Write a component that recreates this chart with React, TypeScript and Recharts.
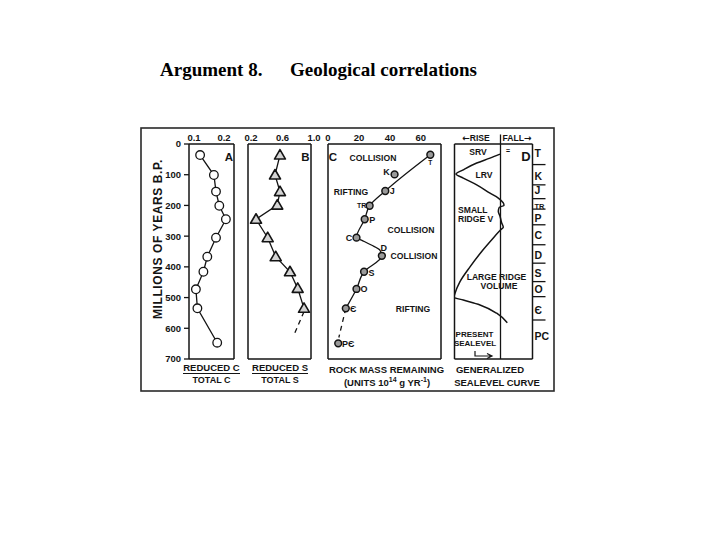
import React from 'react';
import { ScatterChart, Scatter, XAxis, YAxis, ReferenceLine } from 'recharts';

const W = 720;
const H = 540;
const FONT = '"Liberation Sans", Arial, Helvetica, sans-serif';
const INK = '#141414';

// shared vertical axis: millions of years before present
const ageTicks = [0, 100, 200, 300, 400, 500, 600, 700];
const innerTicks = [100, 200, 300, 400, 500, 600];

// A: reduced C / total C
const aAges = [36, 101, 155, 201, 245, 305, 367, 416, 473, 535, 647];
const aRatio = [0.137, 0.183, 0.19, 0.201, 0.223, 0.19, 0.161, 0.148, 0.123, 0.128, 0.194];
const aTicks = [0.1, 0.2];
const aMinorTicks = [0.15, 0.2];

// B: reduced S / total S
const bAges = [36, 101, 155, 199, 245, 305, 367, 416, 470, 535];
const bRatio = [0.606, 0.543, 0.606, 0.572, 0.302, 0.45, 0.552, 0.733, 0.831, 0.911];
const bDashAges = [546, 627];
const bDashRatio = [0.911, 0.775];
const bTicks = [0.2, 0.6, 1.0];
const bMinorTicks = [0.4, 0.6, 0.8];

// C: rock mass remaining (10^14 g/yr)
const cNames = ['T', 'K', 'J', 'TR', 'P', 'C', 'D', 'S', 'O', 'Є', 'PЄ'];
const cAges = [35, 99, 153, 201, 245, 305, 364, 416, 472, 535, 649];
const cMass = [66.1, 43.0, 37.0, 26.9, 23.7, 18.4, 34.8, 23.3, 18.4, 11.5, 6.6];
const cTrendAges = [35, 153, 201, 245, 305, 313, 329, 345, 364, 416, 472, 535];
const cTrendMass = [66.1, 37.0, 26.9, 23.7, 18.4, 21.6, 28.0, 33.4, 34.8, 23.3, 18.4, 11.5];
const cDashAges = [535, 630];
const cDashMass = [11.5, 7.0];
const cTicks = [0, 20, 40, 60];

// D: generalized sealevel curve (rise is positive, to the left)
const dAges = [33, 46, 62, 84, 98, 111, 133, 160, 176, 192, 200, 206, 219, 235, 257, 271, 279, 306, 350, 400, 448, 486, 499, 508, 524, 551, 582];
const dRise = [0.5, 10.5, 23.8, 37.2, 44.5, 37.2, 23.8, 10.5, 2.2, -2.8, -3.5, 1.2, 2.2, 0.5, -1.2, -2.8, -0.2, 7.2, 18.8, 30.5, 40.5, 45.5, 46.5, 37.2, 20.5, 3.8, -6.8];
const periods = ['T', 'K', 'J', 'TR', 'P', 'C', 'D', 'S', 'O', 'Є', 'PC'];
const periodAges = [29, 104, 152, 199, 243, 296, 362, 420, 475, 541, 628];
const boundaryAges = [67, 133, 178, 212, 263, 328, 388, 448, 497, 573];

const pairs = (ages: number[], vals: number[]) => ages.map((age, i) => ({ age, v: vals[i] }));

const aData = pairs(aAges, aRatio);
const bData = pairs(bAges, bRatio);
const bDash = pairs(bDashAges, bDashRatio);
const cData = cAges.map((age, i) => ({ age, v: cMass[i], name: cNames[i] }));
const cTrend = pairs(cTrendAges, cTrendMass);
const cDash = pairs(cDashAges, cDashMass);
const dData = pairs(dAges, dRise);

const axisLine = { stroke: INK, strokeWidth: 1.5 };
const tickLine = { stroke: INK, strokeWidth: 1.3 };
const txt = { fontFamily: FONT, fontWeight: 700, fill: INK } as const;
const layer: React.CSSProperties = { position: 'absolute', left: 0, top: 0 };

const topTick = (shift: number, digits: number) => (p: any) => (
  <text x={p.x + shift} y={p.y} textAnchor="middle" fontSize={9.5} {...txt}>
    {Number(p.payload.value).toFixed(digits)}
  </text>
);

const ageTick = (p: any) => (
  <text x={p.x} y={p.y} dy={3.4} textAnchor="end" fontSize={9.5} {...txt}>
    {p.payload.value}
  </text>
);

const periodTick = (p: any) => {
  const name = periods[periodAges.indexOf(p.payload.value)];
  return (
    <text x={p.x} y={p.y} dy={3.6} textAnchor="start" fontSize={name === 'TR' ? 7.5 : 10.5} {...txt}>
      {name}
    </text>
  );
};

const noDot = () => <g />;

const openCircle = (p: any) => (
  <circle cx={p.cx} cy={p.cy} r={4.3} fill="#fff" stroke={INK} strokeWidth={1.3} />
);

const triangle = (p: any) => (
  <polygon
    points={`${p.cx},${p.cy - 5.5} ${p.cx - 5.5},${p.cy + 4} ${p.cx + 5.5},${p.cy + 4}`}
    fill="#d4d4d4"
    stroke={INK}
    strokeWidth={1.6}
    strokeLinejoin="round"
  />
);

// label placement next to each point of panel C
const cLabelOffset: Record<string, [number, number, number]> = {
  T: [0, 8, 6.5],
  K: [-8, -2, 9],
  J: [7, 0, 9],
  TR: [-8, 0, 7],
  P: [7.5, 1, 9],
  C: [-7.5, 0, 9],
  D: [2, -8, 9],
  S: [7.5, 1, 9],
  O: [7.5, 0, 9],
  'Є': [7.5, 1, 9],
  'PЄ': [10, 1, 9],
};

const massDot = (p: any) => {
  const name = p.payload.name;
  const [dx, dy, fs] = cLabelOffset[name];
  return (
    <g>
      <circle cx={p.cx} cy={p.cy} r={3.4} fill="#9a9a9a" stroke={INK} strokeWidth={1.5} />
      <text x={p.cx + dx} y={p.cy + dy} textAnchor="middle" dominantBaseline="central" fontSize={fs} {...txt}>
        {name}
      </text>
    </g>
  );
};

const ageAxisProps = {
  type: 'number' as const,
  domain: [0, 700],
  reversed: true,
  allowDataOverflow: true,
  interval: 0 as const,
};

const PanelA = () => (
  <ScatterChart width={W} height={H} margin={{ top: 130, right: 486, bottom: 181, left: 149 }}>
    <XAxis type="number" dataKey="v" orientation="top" domain={[0.1, 0.25]} ticks={aTicks} interval={0} height={14}
      tickSize={0} tickMargin={3} axisLine={axisLine} tickLine={false} tick={topTick(5, 1)} allowDataOverflow />
    <XAxis xAxisId="b" type="number" orientation="bottom" mirror domain={[0.1, 0.25]} ticks={aMinorTicks} interval={0}
      tickSize={6} tick={false} axisLine={axisLine} tickLine={tickLine} allowDataOverflow />
    <YAxis {...ageAxisProps} dataKey="age" ticks={ageTicks} width={40} tickSize={5} tickMargin={3}
      axisLine={axisLine} tickLine={tickLine} tick={ageTick} />
    <YAxis {...ageAxisProps} yAxisId="r" orientation="right" mirror ticks={innerTicks} tickSize={4}
      tick={false} axisLine={axisLine} tickLine={tickLine} />
    <Scatter data={aData} line={{ stroke: INK, strokeWidth: 1.3 }} lineJointType="linear" shape={openCircle} isAnimationActive={false} />
  </ScatterChart>
);

const PanelB = () => (
  <ScatterChart width={W} height={H} margin={{ top: 130, right: 409, bottom: 181, left: 248 }}>
    <XAxis type="number" dataKey="v" orientation="top" domain={[0.2, 1.0]} ticks={bTicks} interval={0} height={14}
      tickSize={0} tickMargin={3} axisLine={axisLine} tickLine={false} tick={topTick(3, 1)} allowDataOverflow />
    <XAxis xAxisId="b" type="number" orientation="bottom" mirror domain={[0.2, 1.0]} ticks={bMinorTicks} interval={0}
      tickSize={6} tick={false} axisLine={axisLine} tickLine={tickLine} allowDataOverflow />
    <YAxis {...ageAxisProps} dataKey="age" mirror ticks={innerTicks} tickSize={5}
      axisLine={axisLine} tickLine={tickLine} tick={false} />
    <YAxis {...ageAxisProps} yAxisId="r" orientation="right" mirror ticks={innerTicks} tickSize={4}
      tick={false} axisLine={axisLine} tickLine={tickLine} />
    <Scatter data={bDash} line={{ stroke: INK, strokeWidth: 1.3, strokeDasharray: '5 4' }} shape={noDot} isAnimationActive={false} />
    <Scatter data={bData} line={{ stroke: INK, strokeWidth: 1.3 }} lineJointType="linear" shape={triangle} isAnimationActive={false} />
  </ScatterChart>
);

const PanelC = () => (
  <ScatterChart width={W} height={H} margin={{ top: 130, right: 279, bottom: 181, left: 328 }}>
    <XAxis type="number" dataKey="v" orientation="top" domain={[0, 73]} ticks={cTicks} interval={0} height={14}
      tickSize={0} tickMargin={3} axisLine={axisLine} tickLine={false} tick={topTick(0, 0)} allowDataOverflow />
    <XAxis xAxisId="b" type="number" orientation="bottom" mirror domain={[0, 73]} ticks={[]}
      tick={false} axisLine={axisLine} tickLine={false} allowDataOverflow />
    <YAxis {...ageAxisProps} dataKey="age" mirror ticks={innerTicks} tickSize={5}
      axisLine={axisLine} tickLine={tickLine} tick={false} />
    <YAxis {...ageAxisProps} yAxisId="r" orientation="right" mirror ticks={innerTicks} tickSize={4}
      tick={false} axisLine={axisLine} tickLine={tickLine} />
    <Scatter data={cTrend} line={{ stroke: INK, strokeWidth: 1.3 }} lineJointType="monotoneY" shape={noDot} isAnimationActive={false} />
    <Scatter data={cDash} line={{ stroke: INK, strokeWidth: 1.3, strokeDasharray: '5 4' }} shape={noDot} isAnimationActive={false} />
    <Scatter data={cData} shape={massDot} isAnimationActive={false} />
  </ScatterChart>
);

const PanelD = () => (
  <ScatterChart width={W} height={H} margin={{ top: 144, right: 167.5, bottom: 181, left: 454.5 }}>
    <XAxis type="number" dataKey="v" orientation="top" mirror reversed domain={[-32, 46]} ticks={[]}
      tick={false} axisLine={axisLine} tickLine={false} allowDataOverflow />
    <XAxis xAxisId="b" type="number" orientation="bottom" mirror reversed domain={[-32, 46]} ticks={[]}
      tick={false} axisLine={axisLine} tickLine={false} allowDataOverflow />
    <YAxis {...ageAxisProps} dataKey="age" mirror ticks={innerTicks} tickSize={5}
      axisLine={axisLine} tickLine={tickLine} tick={false} />
    <YAxis {...ageAxisProps} yAxisId="r" orientation="right" mirror ticks={innerTicks} tickSize={4}
      tick={false} axisLine={axisLine} tickLine={tickLine} />
    <YAxis {...ageAxisProps} yAxisId="p" orientation="right" ticks={periodAges} width={20} tickSize={0} tickMargin={2}
      axisLine={false} tickLine={false} tick={periodTick} />
    <ReferenceLine segment={[{ x: 0, y: -31 }, { x: 0, y: 700 }]} ifOverflow="visible" stroke={INK} strokeWidth={1.3} />
    {boundaryAges.map((age) => (
      <ReferenceLine key={age} segment={[{ x: -32, y: age }, { x: -45, y: age }]} ifOverflow="visible" stroke={INK} strokeWidth={1.3} />
    ))}
    <Scatter data={dData} line={{ stroke: INK, strokeWidth: 1.5 }} lineJointType="monotoneY" shape={noDot} isAnimationActive={false} />
  </ScatterChart>
);

const T = (props: any) => <text {...txt} fontSize={8.6} textAnchor="middle" {...props} />;
const ARROWS = '"DejaVu Sans", sans-serif';

export default function App() {
  return (
    <div style={{ position: 'absolute', left: 0, top: 0, width: W, height: H, background: '#fff' }}>
      <div style={layer}><PanelA /></div>
      <div style={layer}><PanelB /></div>
      <div style={layer}><PanelC /></div>
      <div style={layer}><PanelD /></div>
      <svg style={layer} width={W} height={H}>
        <text x={160} y={76} fontFamily='"Liberation Serif", "Times New Roman", serif' fontWeight={700} fontSize={19} fill="#000">Argument 8.</text>
        <text x={290} y={76} fontFamily='"Liberation Serif", "Times New Roman", serif' fontWeight={700} fontSize={19} fill="#000">Geological correlations</text>

        <rect x={141} y={128} width={413} height={263} fill="none" stroke="#2a2a2a" strokeWidth={1.6} />

        <text transform="translate(158,239) rotate(-90)" textAnchor="middle" dominantBaseline="central" fontSize={12} letterSpacing={0.6} {...txt}>
          MILLIONS OF YEARS B.P.
        </text>

        <T x={229} y={161} fontSize={11.5}>A</T>
        <T x={305.5} y={161} fontSize={11.5}>B</T>
        <T x={333} y={161} fontSize={11.5}>C</T>
        <T x={526} y={161} fontSize={13}>D</T>

        <T x={373} y={161}>COLLISION</T>
        <T x={351} y={194.5}>RIFTING</T>
        <T x={411} y={233}>COLLISION</T>
        <T x={414} y={259}>COLLISION</T>
        <T x={413} y={311.5}>RIFTING</T>

        <T x={476} y={140.5}><tspan fontFamily={ARROWS} fontSize={9}>←</tspan>RISE</T>
        <T x={502.5} y={140.5} textAnchor="start">FALL<tspan fontFamily={ARROWS} fontSize={9}>→</tspan></T>
        <T x={508} y={153} fontSize={7}>=</T>
        <T x={478} y={155}>SRV</T>
        <T x={484} y={178}>LRV</T>
        <T x={458} y={213} textAnchor="start">SMALL</T>
        <T x={458} y={221.5} textAnchor="start">RIDGE V</T>
        <T x={496.5} y={280}>LARGE RIDGE</T>
        <T x={499} y={288.5}>VOLUME</T>
        <T x={474.5} y={336.5} fontSize={8}>PRESENT</T>
        <T x={475} y={346} fontSize={8}>SEALEVEL</T>
        <path d="M475 351 L475 356 L491 356 M487 353.5 L492 356 L487 358.5" fill="none" stroke={INK} strokeWidth={1.2} />

        <T x={211.5} y={371} fontSize={9.5}>REDUCED C</T>
        <line x1={183} x2={240} y1={373.5} y2={373.5} stroke={INK} strokeWidth={1.2} />
        <T x={211.5} y={383} fontSize={9}>TOTAL C</T>
        <T x={280} y={371} fontSize={9.5}>REDUCED S</T>
        <line x1={252} x2={308} y1={373.5} y2={373.5} stroke={INK} strokeWidth={1.2} />
        <T x={280} y={383} fontSize={9}>TOTAL S</T>
        <T x={386.5} y={372.5} fontSize={9.5}>ROCK MASS REMAINING</T>
        <T x={387} y={386} fontSize={9.5}>
          (UNITS 10<tspan dy={-4} fontSize={7}>14</tspan>
          <tspan dy={4}> g YR</tspan>
          <tspan dy={-4} fontSize={7}>-1</tspan>
          <tspan dy={4}>)</tspan>
        </T>
        <T x={490} y={373} fontSize={9.5}>GENERALIZED</T>
        <T x={497} y={386} fontSize={9.5}>SEALEVEL CURVE</T>
      </svg>
    </div>
  );
}
